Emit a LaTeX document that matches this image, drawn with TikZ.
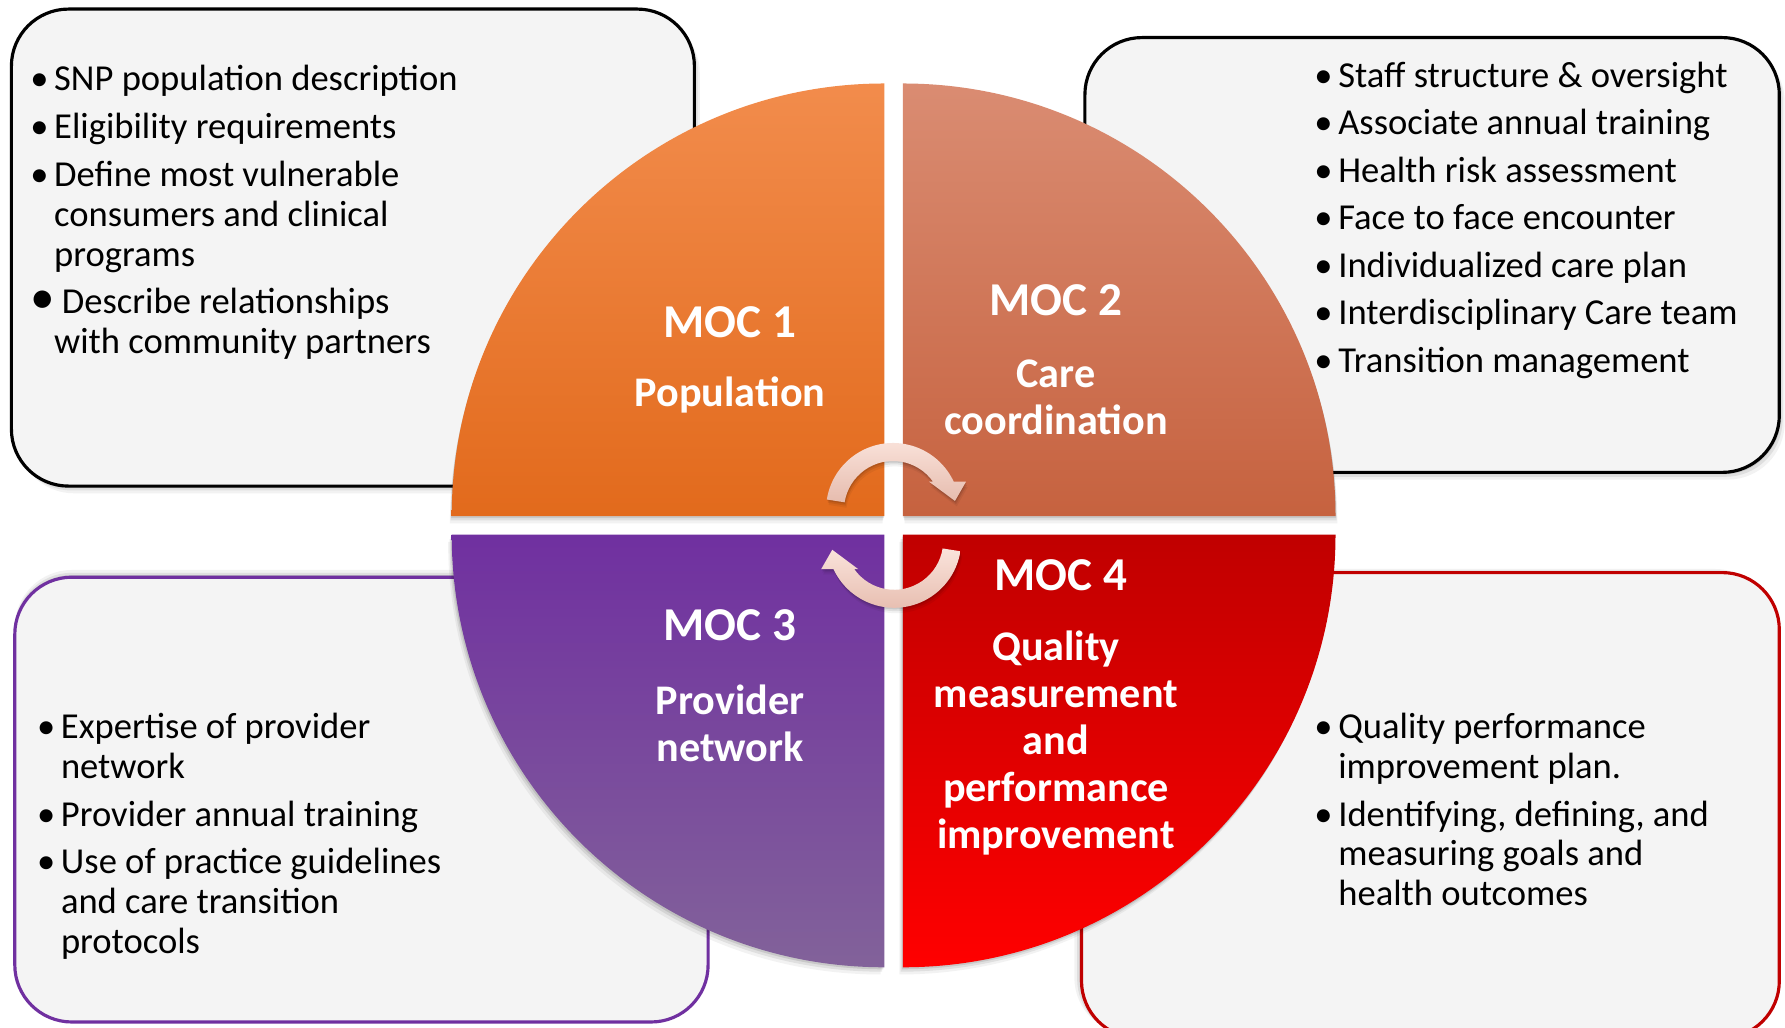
\documentclass[tikz,border=0pt]{standalone}
\usepackage{fontspec}
\setmainfont{Carlito}
\usetikzlibrary{shadows}

\definecolor{boxfill}{HTML}{F4F4F4}
\definecolor{qatop}{HTML}{F28C4C}
\definecolor{qabot}{HTML}{E26A1C}
\definecolor{qbtop}{HTML}{DA8C72}
\definecolor{qbbot}{HTML}{C6623F}
\definecolor{qctop}{HTML}{7030A0}
\definecolor{qcbot}{HTML}{82629A}
\definecolor{qdtop}{HTML}{C00000}
\definecolor{qdbot}{HTML}{FF0000}
\definecolor{purpleline}{HTML}{7030A0}
\definecolor{redline}{HTML}{C00000}
\definecolor{arrlight}{HTML}{FAE3DB}
\definecolor{arrdark}{HTML}{E6BCAE}

% bullet of fixed width for the item lists
\newcommand\bul{\makebox[6.8pt][l]{\textbullet}}
% curved arrow around a centre, turned by #1 degrees
\newcommand\cyclearrow[1]{(171+#1:67) arc[start angle=171+#1, end angle=25+#1, radius=67]
  -- (21.2+#1:78.3) -- (8.3+#1:62.6) -- (38.2+#1:45.8) -- (35.3+#1:49)
  arc[start angle=35.3+#1, end angle=171+#1, radius=49] -- cycle}

\begin{document}
\begin{tikzpicture}[x=0.01cm, y=0.01cm,
  softshadow/.style 2 args={
    preaction={fill=black, opacity=0.05, transform canvas={shift={(#1*1.8,#2*1.8)}}},
    preaction={fill=black, opacity=0.08, transform canvas={shift={(#1*1.1,#2*1.1)}}},
    preaction={fill=black, opacity=0.10, transform canvas={shift={(#1*0.5,#2*0.5)}}}},
  infobox/.style={fill=boxfill, line width=0.9pt, rounded corners=0.57cm},
  itemtext/.style={anchor=base west, inner sep=0pt, text=black,
    font=\fontsize{10.4pt}{11.3pt}\selectfont},
  mocttl/.style={text=white, inner sep=0pt,
    font=\fontsize{13.4pt}{15pt}\selectfont\bfseries},
  mocsub/.style={text=white, inner sep=0pt, align=center,
    font=\fontsize{12pt}{13.3pt}\selectfont\bfseries},
  arrowband/.style={softshadow={1}{-3}}]

\useasboundingbox (0,0) rectangle (1785,1028);
\fill[white] (0,0) rectangle (1785,1028);

% ---- the four text panels ----
\path[infobox, draw=black, softshadow={3}{-4}] (11.4,1018.9) rectangle (694.4,541.9);
\path[infobox, draw=black, softshadow={3}{-4}] (1084.9,990.4) rectangle (1779.3,555.6);
\path[infobox, draw=purpleline, softshadow={0}{4}] (14.8,450.8) rectangle (708.1,6);
\path[infobox, draw=redline, softshadow={-4}{2}] (1081.5,455.4) rectangle (1779.3,-10);

% ---- the four quarter discs ----
\path[top color=qatop, bottom color=qabot, softshadow={-1}{-4}]
  (884.3,511.9) -- ++(-432.6,0) arc[start angle=180, end angle=90, radius=432.6] -- cycle;
\path[top color=qbtop, bottom color=qbbot, softshadow={1}{-4}]
  (902.9,511.9) -- ++(0,432.6) arc[start angle=90, end angle=0, radius=432.6] -- cycle;
\path[top color=qctop, bottom color=qcbot, softshadow={-2}{-4}]
  (884.3,493.3) -- ++(0,-432.6) arc[start angle=270, end angle=180, radius=432.6] -- cycle;
\path[top color=qdtop, bottom color=qdbot, softshadow={-2}{-4}]
  (902.9,493.3) -- ++(432.6,0) arc[start angle=360, end angle=270, radius=432.6] -- cycle;

% ---- the two circular arrows in the middle ----
\begin{scope}[shift={(893,518)}]
  \path[arrowband, top color=arrlight, bottom color=arrdark] \cyclearrow{0};
\end{scope}
\begin{scope}[shift={(894.2,487.2)}]
  \path[arrowband, top color=arrlight, bottom color=arrdark] \cyclearrow{180};
\end{scope}

% ---- labels inside the disc ----
\node[mocttl] (t1) at (730,706) {MOC 1};
\node[mocsub] (s1) at (730,633) {Population};
\node[mocttl] (t2) at (1056,728) {MOC 2};
\node[mocsub] (s2) at (1056,631) {Care\\coordination};
\node[mocttl] (t3) at (730,403) {MOC 3};
\node[mocsub] (s3) at (730,305) {Provider\\network};
\node[mocttl] (t4) at (1061,453) {MOC 4};
\node[mocsub] (s4) at (1056,285) {Quality\\measurement\\and\\performance\\improvement};

% ---- item lists ----
\node[itemtext] (l1) at (29.6,937) {\begin{tabular}[t]{@{}l@{}l@{}}
\bul & SNP population description\\[2.3pt]
\bul & Eligibility requirements\\[2.3pt]
\bul & Define most vulnerable\\
     & consumers and clinical\\
     & programs\\[2.3pt]
\makebox[6.8pt][l]{\fontsize{14pt}{11.3pt}\selectfont\textbullet} & \hspace{2.2pt}Describe relationships\\
     & with community partners
\end{tabular}};

\node[itemtext] (l2) at (1313.7,940.5) {\begin{tabular}[t]{@{}l@{}l@{}}
\bul & Staff structure \& oversight\\[2.2pt]
\bul & Associate annual training\\[2.2pt]
\bul & Health risk assessment\\[2.2pt]
\bul & Face to face encounter\\[2.2pt]
\bul & Individualized care plan\\[2.2pt]
\bul & Interdisciplinary Care team\\[2.2pt]
\bul & Transition management
\end{tabular}};

\node[itemtext] (l3) at (36.4,289.5) {\begin{tabular}[t]{@{}l@{}l@{}}
\bul & Expertise of provider\\
     & network\\[2.3pt]
\bul & Provider annual training\\[2.3pt]
\bul & Use of practice guidelines\\
     & and care transition\\
     & protocols
\end{tabular}};

\node[itemtext] (l4) at (1313.7,289.5) {\begin{tabular}[t]{@{}l@{}l@{}}
\bul & Quality performance\\
     & improvement plan.\\[2.3pt]
\bul & Identifying, defining, and\\
     & measuring goals and\\
     & health outcomes
\end{tabular}};

\end{tikzpicture}
\end{document}
